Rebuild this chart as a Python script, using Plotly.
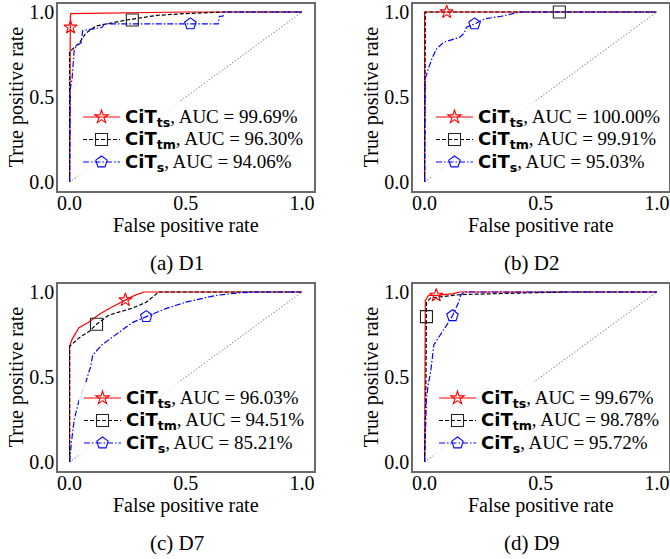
import plotly.graph_objects as go

# ---------------- data ----------------
panels = ["D1", "D2", "D7", "D9"]
captions = ["(a) D1", "(b) D2", "(c) D7", "(d) D9"]

series_names = ["ts", "tm", "s"]

auc_D1 = ["99.69%", "96.30%", "94.06%"]
auc_D2 = ["100.00%", "99.91%", "95.03%"]
auc_D7 = ["96.03%", "94.51%", "85.21%"]
auc_D9 = ["99.67%", "98.78%", "95.72%"]

# D1
D1_ts_fpr = [0, 0, 0.003, 0.005, 0.5, 1.0]
D1_ts_tpr = [0, 0.72, 0.97, 0.99, 1.0, 1.0]
D1_tm_fpr = [0, 0, 0.008, 0.043, 0.07, 0.115, 0.245, 0.375, 0.49, 0.66, 1.0]
D1_tm_tpr = [0, 0.76, 0.776, 0.82, 0.876, 0.918, 0.953, 0.98, 0.99, 1.0, 1.0]
D1_s_fpr = [0, 0, 0.003, 0.01, 0.02, 0.03, 0.05, 0.056, 0.1, 0.14, 0.15, 0.64, 0.645, 0.66, 0.665, 1.0]
D1_s_tpr = [0, 0.33, 0.55, 0.6, 0.78, 0.8, 0.82, 0.89, 0.9, 0.91, 0.93, 0.93, 0.975, 0.975, 1.0, 1.0]
D1_mark = [(0.004, 0.91), (0.27, 0.953), (0.52, 0.93)]

# D2
D2_ts_fpr = [0, 0, 1.0]
D2_ts_tpr = [0, 1.0, 1.0]
D2_tm_fpr = [0, 0, 0.003, 1.0]
D2_tm_tpr = [0, 0.97, 1.0, 1.0]
D2_s_fpr = [0, 0.002, 0.003, 0.017, 0.03, 0.05, 0.08, 0.1, 0.125, 0.15, 0.17, 0.18, 0.215, 0.26, 0.33, 0.38, 0.41, 1.0]
D2_s_tpr = [0, 0.3, 0.61, 0.67, 0.72, 0.78, 0.82, 0.83, 0.84, 0.85, 0.875, 0.91, 0.93, 0.96, 0.975, 0.99, 1.0, 1.0]
D2_mark = [(0.095, 1.0), (0.58, 1.0), (0.215, 0.93)]

# D7
D7_ts_fpr = [0, 0, 0.01, 0.04, 0.08, 0.13, 0.18, 0.24, 0.28, 0.32, 1.0]
D7_ts_tpr = [0, 0.68, 0.72, 0.79, 0.82, 0.87, 0.91, 0.95, 0.98, 1.0, 1.0]
D7_tm_fpr = [0, 0, 0.04, 0.086, 0.116, 0.17, 0.27, 0.33, 0.375, 0.38, 1.0]
D7_tm_tpr = [0, 0.68, 0.73, 0.77, 0.81, 0.865, 0.905, 0.94, 0.99, 1.0, 1.0]
D7_s_fpr = [0, 0.003, 0.008, 0.02, 0.035, 0.05, 0.07, 0.09, 0.1, 0.14, 0.215, 0.27, 0.33, 0.42, 0.5, 0.63, 0.73, 0.8, 1.0]
D7_s_tpr = [0, 0.05, 0.12, 0.25, 0.335, 0.4, 0.47, 0.56, 0.63, 0.69, 0.765, 0.82, 0.855, 0.905, 0.94, 0.98, 0.995, 1.0, 1.0]
D7_mark = [(0.24, 0.953), (0.116, 0.81), (0.33, 0.855)]

# D9
D9_ts_fpr = [0, 0, 0.003, 0.017, 0.05, 0.125, 0.15, 1.0]
D9_ts_tpr = [0, 0.93, 0.95, 0.98, 0.98, 0.99, 1.0, 1.0]
D9_tm_fpr = [0, 0.006, 0.008, 0.026, 0.155, 0.6, 1.0]
D9_tm_tpr = [0, 0.5, 0.94, 0.965, 0.985, 1.0, 1.0]
D9_s_fpr = [0, 0.003, 0.008, 0.015, 0.026, 0.04, 0.07, 0.095, 0.12, 0.145, 0.155, 0.17, 1.0]
D9_s_tpr = [0, 0.2, 0.375, 0.45, 0.53, 0.69, 0.75, 0.805, 0.86, 0.935, 0.98, 1.0, 1.0]
D9_mark = [(0.05, 0.98), (0.008, 0.855), (0.12, 0.86)]

tick_vals = [0.0, 0.5, 1.0]
tick_text = ["0.0", "0.5", "1.0"]

# ---------------- figure ----------------
W, H = 670, 559
curves = {
    "D1": [(D1_ts_fpr, D1_ts_tpr), (D1_tm_fpr, D1_tm_tpr), (D1_s_fpr, D1_s_tpr)],
    "D2": [(D2_ts_fpr, D2_ts_tpr), (D2_tm_fpr, D2_tm_tpr), (D2_s_fpr, D2_s_tpr)],
    "D7": [(D7_ts_fpr, D7_ts_tpr), (D7_tm_fpr, D7_tm_tpr), (D7_s_fpr, D7_s_tpr)],
    "D9": [(D9_ts_fpr, D9_ts_tpr), (D9_tm_fpr, D9_tm_tpr), (D9_s_fpr, D9_s_tpr)],
}
marks = {"D1": D1_mark, "D2": D2_mark, "D7": D7_mark, "D9": D9_mark}
aucs = {"D1": auc_D1, "D2": auc_D2, "D7": auc_D7, "D9": auc_D9}

colors = ["#ff0000", "#000000", "#0000ff"]
mark_colors = ["#ff0000", "#222222", "#0000ff"]
dashes = ["solid", "4px,2px", "6px,2px,1.5px,2px"]
symbols = ["star-open", "square-open", "pentagon-open"]
msizes = [10, 12, 12]

# pixel layout of the frames (left, right, top, bottom)
frames = [
    (58.0, 313.5, 3.5, 190.5),
    (413.0, 668.5, 3.5, 190.5),
    (58.0, 313.5, 283.5, 470.5),
    (413.0, 668.5, 283.5, 470.5),
]
legend_pos = [(78, 100.75), (431, 100.75), (79, 381.75), (434, 381.75)]
caption_pos = [(177, 263), (531, 263), (177, 543), (531, 543)]

SERIF = "Liberation Serif"
fig = go.Figure()

for i, p in enumerate(panels):
    xa = "x" if i == 0 else f"x{i+1}"
    ya = "y" if i == 0 else f"y{i+1}"
    lg = "legend" if i == 0 else f"legend{i+1}"
    # diagonal
    fig.add_trace(go.Scatter(x=[0, 1], y=[0, 1], mode="lines", xaxis=xa, yaxis=ya,
                             line=dict(color="#8c8c8c", width=1.1, dash="1.2px,2px"),
                             showlegend=False, hoverinfo="skip"))
    for k in range(3):
        fx, ty = curves[p][k]
        fig.add_trace(go.Scatter(x=fx, y=ty, mode="lines", xaxis=xa, yaxis=ya,
                                 line=dict(color=colors[k], width=1.2, dash=dashes[k]),
                                 showlegend=False))
    for k in range(3):
        mx, my = marks[p][k]
        name = ('<span style="font-family:\'DejaVu Sans\';font-size:18px"><b>CiT<sub>%s</sub></b></span>'
                '<span style="font-size:19px">, AUC = %s</span>') % (series_names[k], aucs[p][k])
        fig.add_trace(go.Scatter(x=[mx], y=[my], mode="lines+markers", xaxis=xa, yaxis=ya,
                                 line=dict(color=colors[k], width=1.2, dash=dashes[k]),
                                 marker=dict(symbol=symbols[k], size=msizes[k], color=mark_colors[k],
                                             line=dict(width=1.1, color=mark_colors[k])),
                                 name=name, legend=lg, showlegend=True))

    l, r, t, b = frames[i]
    axis_common = dict(range=[-0.05, 1.05], tickvals=tick_vals, ticktext=tick_text,
                       showgrid=False, zeroline=False, showline=True, mirror=True,
                       linecolor="#6a6a6a", linewidth=1.5, ticks="",
                       tickfont=dict(family=SERIF, size=20, color="black"))
    fig.layout[("xaxis" if i == 0 else f"xaxis{i+1}")] = dict(
        domain=[l / W, r / W], anchor=ya, ticklabelstandoff=-6,
        title=dict(text="False positive rate", font=dict(family=SERIF, size=20, color="black"), standoff=0),
        **axis_common)
    fig.layout[("yaxis" if i == 0 else f"yaxis{i+1}")] = dict(
        domain=[1 - b / H, 1 - t / H], anchor=xa, ticklabelstandoff=-2,
        title=dict(text="True positive rate", font=dict(family=SERIF, size=20, color="black"), standoff=0),
        **axis_common)
    lx, ly = legend_pos[i]
    fig.layout[lg] = dict(x=lx / W, y=1 - ly / H, xanchor="left", yanchor="top",
                          xref="paper", yref="paper", bgcolor="rgba(255,255,255,0.8)",
                          borderwidth=0, itemwidth=37,
                          font=dict(family=SERIF, size=15, color="black"))
    cx, cy = caption_pos[i]
    fig.add_annotation(x=cx / W, y=1 - cy / H, xref="paper", yref="paper", text=captions[i],
                       showarrow=False, xanchor="center", yanchor="middle",
                       font=dict(family=SERIF, size=21, color="black"))

fig.update_layout(width=W, height=H, margin=dict(l=0, r=0, t=0, b=0, autoexpand=False),
                  plot_bgcolor="white", paper_bgcolor="white", showlegend=True)

fig.write_html("out.html", config={"displayModeBar": False},
               post_script="document.body.style.margin='0';document.body.style.overflow='hidden';")
